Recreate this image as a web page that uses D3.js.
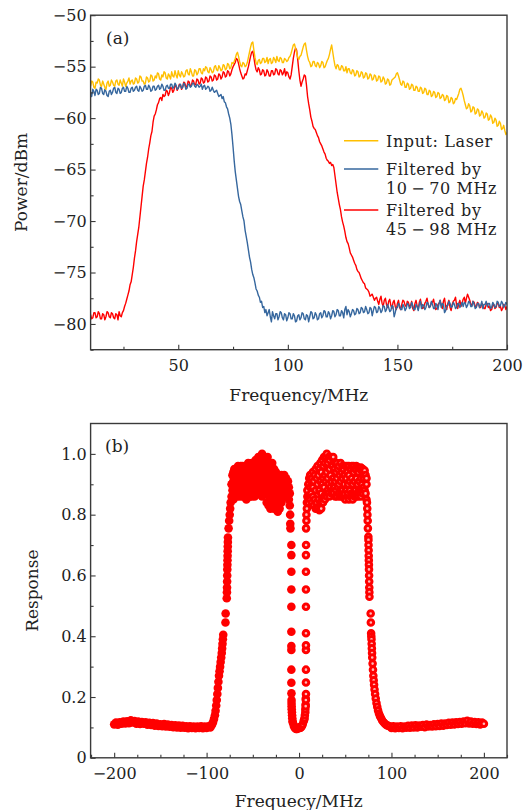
<!DOCTYPE html>
<html>
<head>
<meta charset="utf-8">
<script src="https://cdn.jsdelivr.net/npm/d3@7"></script>
<style>
body { margin: 0; background: #fff; }
svg text { font-family: "DejaVu Serif", serif; fill: #222; }
</style>
</head>
<body>
<svg id="chart" width="530" height="810"></svg>
<script>
// ---- panel (a) data: power spectra on a 0.5 MHz grid, 10 .. 200 MHz ----
var freqA = d3.range(10, 200.25, 0.5);

var laser = [
 -56.9,-56.4,-56.5,-57.0,-57.1,-56.5,-56.6,-56.2,-56.3,-56.8,-56.9,-56.4,-56.7,-57.0,-57.2,-56.6,-56.4,-56.9,-56.8,-56.3,
 -56.5,-56.8,-56.9,-56.4,-56.3,-56.7,-56.8,-56.3,-56.6,-56.9,-56.2,-56.5,-56.9,-56.6,-56.4,-56.1,-56.7,-56.4,-56.3,-56.7,
 -56.6,-56.1,-56.2,-56.6,-56.5,-55.9,-56.0,-56.4,-56.4,-56.7,-56.6,-56.0,-56.1,-56.5,-56.4,-55.8,-55.9,-56.4,-56.3,-55.9,
 -56.1,-55.6,-55.7,-56.2,-56.3,-55.8,-56.0,-55.5,-55.6,-56.1,-56.2,-55.7,-55.9,-56.2,-55.5,-55.9,-56.0,-55.4,-55.8,-56.1,
 -55.4,-55.8,-56.0,-55.5,-55.7,-56.0,-55.9,-55.4,-55.3,-55.7,-55.8,-55.2,-55.5,-55.9,-55.9,-55.3,-55.4,-55.8,-55.6,-55.2,
 -55.2,-55.6,-55.7,-55.2,-55.4,-55.0,-55.1,-55.5,-55.6,-55.1,-55.3,-55.6,-55.5,-55.0,-54.9,-55.3,-55.4,-54.9,-55.1,-55.4,
 -55.3,-54.8,-54.9,-55.3,-55.2,-54.7,-54.8,-55.2,-55.1,-54.6,-54.7,-54.5,-54.2,-53.8,-53.6,-54.0,-54.5,-54.9,-55.0,-54.6,
 -54.7,-55.0,-54.9,-54.6,-54.1,-53.6,-53.1,-52.7,-52.6,-53.4,-54.1,-54.6,-54.8,-54.4,-54.3,-54.7,-54.6,-54.2,-54.2,-54.6,
 -54.5,-54.1,-54.7,-54.3,-54.2,-54.7,-54.6,-54.1,-54.3,-54.6,-54.0,-54.4,-54.5,-54.1,-54.2,-54.6,-54.6,-54.2,-54.3,-54.5,
 -54.4,-54.1,-54.0,-53.7,-53.3,-52.9,-52.8,-53.2,-53.6,-54.1,-54.3,-54.0,-53.9,-53.5,-53.1,-52.8,-52.7,-53.4,-54.0,-54.4,
 -54.6,-55.0,-54.9,-54.5,-54.5,-54.9,-55.0,-54.6,-54.7,-55.1,-54.9,-54.5,-54.6,-55.1,-55.0,-54.7,-54.4,-54.2,-53.8,-53.3,
 -52.9,-53.6,-54.3,-54.9,-55.2,-54.8,-54.9,-55.3,-55.3,-54.9,-55.0,-55.4,-55.4,-55.0,-55.6,-55.2,-55.2,-55.6,-55.7,-55.3,
 -55.4,-55.9,-55.8,-55.4,-55.5,-56.0,-55.9,-55.5,-55.6,-56.1,-56.0,-55.6,-55.7,-56.2,-56.1,-55.7,-55.8,-56.3,-56.2,-55.8,
 -55.9,-56.4,-56.3,-55.9,-56.0,-56.5,-56.4,-56.0,-56.2,-56.7,-56.6,-56.2,-56.3,-56.8,-56.7,-56.3,-56.2,-56.1,-56.0,-55.7,
 -55.6,-55.9,-56.3,-56.7,-56.8,-56.4,-56.5,-57.0,-57.0,-56.6,-56.7,-57.2,-57.1,-56.7,-56.8,-57.3,-57.3,-56.9,-57.0,-57.4,
 -57.4,-57.0,-57.1,-57.6,-57.5,-57.1,-57.2,-57.7,-57.7,-57.3,-57.4,-57.9,-57.8,-57.4,-57.5,-58.0,-57.9,-57.5,-57.6,-58.1,
 -58.0,-57.7,-57.8,-58.3,-58.2,-57.8,-57.9,-58.5,-58.4,-58.0,-58.1,-58.6,-58.5,-58.1,-58.2,-57.9,-57.6,-57.2,-57.1,-57.4,
 -57.8,-58.3,-58.7,-59.1,-59.0,-58.6,-58.8,-59.4,-59.3,-58.9,-59.0,-59.6,-59.5,-59.1,-59.2,-59.8,-59.7,-59.3,-59.5,-60.0,
 -59.9,-59.5,-59.6,-60.2,-60.1,-59.7,-59.9,-60.5,-60.4,-60.0,-60.2,-60.8,-60.7,-60.3,-60.5,-61.1,-61.0,-60.7,-61.2,-61.6,
 -61.4
];

var filtered1070 = [
 -57.5,-57.9,-57.2,-57.4,-57.8,-57.2,-57.3,-57.7,-57.6,-57.0,-57.1,-57.6,-57.7,-57.2,-57.4,-57.8,-57.9,-57.4,-57.3,-57.7,
 -57.5,-57.1,-57.0,-57.5,-57.6,-57.1,-57.2,-57.6,-57.5,-57.1,-57.0,-57.4,-57.4,-56.9,-57.1,-57.5,-57.5,-57.1,-57.0,-57.4,
 -57.3,-57.0,-56.9,-57.3,-57.4,-56.9,-57.1,-57.4,-57.3,-56.9,-56.8,-57.2,-57.2,-56.8,-57.0,-57.4,-57.3,-56.9,-56.9,-57.3,
 -57.2,-56.9,-56.8,-57.2,-57.1,-56.7,-56.9,-57.3,-57.3,-56.9,-56.8,-57.1,-57.1,-56.7,-56.7,-57.1,-57.0,-56.6,-56.8,-57.2,
 -57.1,-56.8,-56.7,-57.1,-57.0,-56.6,-56.8,-57.2,-57.1,-56.7,-56.7,-57.0,-56.9,-56.6,-56.6,-56.9,-57.0,-56.7,-56.8,-57.0,
 -56.9,-56.7,-57.2,-56.9,-56.8,-57.2,-57.1,-56.9,-57.0,-57.4,-57.3,-57.0,-57.3,-57.5,-57.4,-57.3,-57.6,-57.9,-57.8,-57.7,
 -58.1,-57.9,-58.4,-58.5,-58.9,-59.1,-59.6,-60.0,-60.6,-61.6,-62.8,-64.1,-65.2,-66.0,-66.8,-67.6,-68.1,-68.4,-69.0,-69.6,
 -70.0,-70.9,-71.5,-72.1,-72.8,-73.5,-74.0,-74.7,-75.2,-75.5,-76.0,-76.6,-76.8,-77.2,-77.4,-77.9,-77.8,-78.4,-78.3,-78.9,
 -78.6,-79.2,-78.9,-78.6,-79.3,-79.8,-78.8,-79.2,-79.5,-79.0,-79.0,-79.6,-79.3,-78.8,-78.9,-79.4,-79.6,-79.0,-79.1,-79.7,
 -79.4,-78.9,-79.0,-79.5,-79.5,-79.0,-79.2,-79.8,-79.7,-79.2,-79.1,-79.6,-79.4,-78.9,-79.0,-79.5,-79.6,-79.1,-79.2,-79.8,
 -79.3,-78.8,-78.9,-79.5,-79.4,-78.9,-79.1,-79.6,-79.5,-79.0,-78.9,-79.4,-79.2,-78.7,-78.8,-79.3,-79.3,-78.8,-79.0,-79.5,
 -79.2,-78.7,-78.8,-79.3,-79.1,-78.6,-78.7,-79.2,-79.2,-78.7,-78.9,-79.4,-78.6,-78.3,-79.1,-78.6,-78.8,-79.3,-79.0,-78.6,
 -78.7,-79.1,-79.0,-78.5,-78.6,-79.0,-78.9,-78.4,-78.5,-78.9,-78.8,-78.3,-78.6,-79.0,-78.9,-78.4,-78.5,-79.2,-78.7,-78.3,
 -78.4,-78.9,-78.8,-78.3,-78.5,-78.9,-78.7,-78.2,-78.3,-78.8,-78.6,-78.1,-78.4,-78.8,-78.7,-78.2,-78.3,-79.3,-78.9,-78.4,
 -78.4,-78.0,-78.2,-78.6,-78.6,-78.1,-78.3,-78.7,-78.5,-78.0,-78.1,-78.5,-78.4,-77.9,-78.2,-78.6,-78.6,-78.1,-78.3,-78.7,
 -78.1,-77.8,-78.5,-78.1,-78.2,-78.6,-78.4,-77.9,-78.0,-78.4,-78.3,-77.8,-78.1,-78.5,-78.5,-78.0,-78.2,-78.6,-78.0,-77.7,
 -78.4,-78.0,-78.1,-78.9,-78.7,-78.2,-78.2,-77.8,-78.0,-78.4,-78.3,-77.9,-78.1,-78.5,-78.4,-78.0,-78.0,-78.4,-78.2,-77.9,
 -78.3,-77.9,-78.0,-78.4,-78.2,-77.8,-77.9,-78.3,-78.3,-77.8,-78.1,-78.5,-78.4,-78.0,-78.0,-78.4,-78.2,-77.8,-78.5,-78.1,
 -78.1,-77.8,-78.3,-78.0,-78.0,-78.5,-78.4,-77.9,-78.1,-78.4,-78.3,-77.8,-77.9,-78.3,-78.2,-77.8,-78.0,-78.4,-78.2,-77.9,
 -78.1
];

var filtered4598 = [
 -79.1,-79.5,-79.4,-78.9,-78.9,-79.4,-79.3,-78.8,-79.0,-79.5,-79.5,-79.0,-79.1,-79.6,-79.3,-78.8,-78.9,-79.3,-79.4,-78.9,
 -79.0,-79.4,-79.5,-79.0,-79.1,-79.6,-78.8,-79.2,-79.3,-78.9,-78.7,-78.3,-78.0,-77.6,-77.2,-76.8,-76.2,-75.9,-75.2,-74.5,
 -73.6,-72.9,-72.0,-71.3,-70.6,-69.6,-68.6,-67.6,-66.6,-66.0,-65.2,-64.4,-63.8,-63.0,-62.4,-61.7,-61.3,-60.4,-59.8,-59.6,
 -59.2,-58.7,-58.5,-58.1,-58.0,-58.3,-57.7,-57.9,-57.8,-57.3,-57.4,-57.8,-57.5,-57.0,-57.1,-57.5,-57.3,-56.8,-56.9,-57.3,
 -57.1,-56.7,-56.8,-57.2,-57.0,-56.5,-56.6,-57.0,-56.9,-56.4,-56.5,-56.9,-56.8,-56.3,-56.4,-56.8,-56.7,-56.2,-56.3,-56.7,
 -56.6,-56.1,-56.2,-56.6,-56.5,-56.0,-56.1,-56.5,-56.4,-55.9,-56.0,-56.4,-56.3,-55.8,-55.9,-56.3,-56.2,-55.7,-55.8,-56.2,
 -56.0,-55.5,-55.6,-56.0,-55.9,-55.4,-55.5,-55.9,-55.7,-55.3,-55.0,-54.8,-54.6,-54.2,-54.3,-54.7,-55.2,-55.6,-55.9,-56.2,
 -56.1,-55.7,-55.8,-55.4,-55.0,-54.5,-54.0,-53.6,-53.5,-54.1,-54.8,-55.3,-55.5,-55.1,-55.3,-55.8,-55.7,-55.3,-55.4,-55.9,
 -55.8,-55.3,-55.5,-55.9,-55.9,-55.4,-55.4,-55.8,-55.7,-55.2,-55.3,-55.7,-55.8,-55.3,-55.4,-55.8,-55.6,-55.2,-55.9,-55.5,
 -55.6,-56.0,-56.2,-55.8,-55.0,-54.2,-53.6,-53.2,-53.4,-54.3,-55.4,-56.3,-56.9,-56.5,-56.2,-55.8,-55.9,-56.8,-57.9,-58.6,
 -59.2,-59.9,-60.3,-60.8,-61.0,-61.1,-61.4,-61.7,-61.9,-62.3,-62.5,-62.7,-63.0,-63.3,-63.5,-63.9,-64.1,-64.2,-64.4,-64.3,
 -64.6,-64.5,-64.8,-65.6,-66.4,-67.2,-67.8,-68.4,-68.9,-69.6,-70.1,-70.5,-71.0,-71.6,-72.0,-72.2,-72.6,-73.1,-73.3,-73.5,
 -73.8,-74.1,-74.3,-74.7,-74.9,-75.0,-75.3,-75.6,-75.8,-76.0,-76.1,-76.5,-76.6,-76.7,-76.9,-77.3,-77.2,-77.1,-77.4,-77.7,
 -77.5,-77.4,-77.8,-78.1,-77.6,-77.3,-78.0,-78.3,-77.7,-77.5,-78.1,-78.4,-77.8,-77.6,-78.2,-78.5,-77.9,-77.7,-78.3,-78.6,
 -78.0,-77.7,-78.4,-78.6,-78.1,-77.7,-77.8,-78.2,-78.3,-77.8,-77.9,-78.3,-78.2,-77.8,-78.5,-78.7,-78.0,-77.7,-78.3,-78.6,
 -77.9,-77.6,-78.2,-78.5,-78.4,-78.0,-77.8,-77.5,-78.1,-78.4,-78.3,-77.9,-77.9,-77.6,-78.2,-78.6,-78.5,-78.1,-78.0,-77.7,
 -78.2,-78.5,-77.8,-77.5,-78.3,-78.6,-78.0,-77.7,-78.4,-78.7,-78.1,-77.8,-77.7,-77.4,-78.2,-78.5,-78.0,-77.7,-78.3,-78.0,
 -77.6,-77.4,-78.0,-77.5,-77.1,-77.4,-77.7,-78.1,-78.2,-77.8,-77.9,-78.3,-78.3,-77.9,-78.0,-78.4,-78.4,-78.0,-78.1,-78.5,
 -78.5,-78.1,-78.0,-78.4,-78.3,-78.7,-78.6,-78.2,-78.1,-78.5,-78.4,-78.0,-78.0,-78.4,-78.3,-78.7,-78.5,-78.1,-78.2,-78.6,
 -78.3
];

var seriesNames = ['Input: Laser', 'Filtered by|10\u2009\u2212\u200970 MHz', 'Filtered by|45\u2009\u2212\u200998 MHz'];
var seriesColors = ['#ffbf00', '#36679e', '#ff0000'];

var xTicksA = [50, 100, 150, 200];
var xMinorA = [25, 75, 125, 175];
var yTicksA = [-80, -75, -70, -65, -60, -55, -50];
var yMinorA = [-82.5, -77.5, -72.5, -67.5, -62.5, -57.5, -52.5];

// ---- panel (b) data: response points [frequency, response] ----
var responseNeg = [
 [-200,0.110],[-198,0.116],[-196,0.109],[-194,0.117],[-192,0.112],[-190,0.119],[-188,0.113],[-186,0.120],[-184,0.114],[-182,0.123],
 [-180,0.116],[-178,0.121],[-176,0.112],[-174,0.119],[-172,0.111],[-170,0.118],[-168,0.112],[-166,0.117],[-164,0.109],[-162,0.115],
 [-160,0.108],[-158,0.114],[-156,0.106],[-154,0.113],[-152,0.105],[-150,0.110],[-148,0.104],[-146,0.111],[-144,0.103],[-142,0.109],
 [-140,0.102],[-138,0.108],[-136,0.101],[-134,0.107],[-132,0.100],[-130,0.106],[-128,0.099],[-126,0.105],[-124,0.099],[-122,0.104],
 [-120,0.097],[-118,0.104],[-116,0.098],[-114,0.103],[-112,0.097],[-110,0.103],[-108,0.098],[-106,0.104],[-104,0.097],[-102,0.103],
 [-100,0.098],[-98,0.104],[-96,0.100],[-95,0.106],
 [-94,0.110],[-93,0.118],[-92,0.128],[-91,0.140],[-90.3,0.155],[-89.6,0.172],[-89,0.19],[-88.4,0.21],[-87.8,0.23],[-87.2,0.25],
 [-86.6,0.27],[-86,0.285],[-85.4,0.30],[-84.8,0.315],[-84.2,0.33],[-83.6,0.345],[-83.2,0.36],[-82.8,0.375],[-82.4,0.39],[-82,0.405],
 [-79.6,0.445],[-79.4,0.475],[-78.2,0.525],[-78,0.545],[-77.9,0.56],[-77.8,0.58],[-77.7,0.60],[-77.6,0.62],[-77.5,0.635],[-77.4,0.65],
 [-77.3,0.665],[-77.2,0.68],[-77.1,0.695],[-77,0.71],[-76.9,0.725],[-76.2,0.755],[-75.6,0.78],[-75,0.80],[-74.5,0.82],[-74,0.84],
 [-73,0.86],[-73,0.90],[-72,0.88],[-72,0.93],[-71,0.85],[-71,0.91],[-71,0.94],[-70,0.87],[-70,0.95],[-69,0.86],[-69,0.92],
 [-68,0.89],[-68,0.95],[-67,0.86],[-67,0.93],[-66,0.88],[-66,0.96],[-65,0.87],[-65,0.91],[-65,0.95],[-64,0.86],[-64,0.94],
 [-63,0.89],[-63,0.96],[-62,0.87],[-62,0.93],[-61,0.86],[-61,0.90],[-61,0.96],[-60,0.88],[-60,0.94],[-59,0.86],[-59,0.92],
 [-58,0.89],[-58,0.96],[-57,0.85],[-57,0.93],[-56,0.87],[-56,0.91],[-56,0.95],[-55,0.86],[-55,0.97],[-54,0.88],[-54,0.93],
 [-53,0.86],[-53,0.96],[-52,0.89],[-52,0.92],[-51,0.86],[-51,0.97],[-50,0.87],[-50,0.94],[-49,0.88],[-49,0.97],[-48,0.86],
 [-48,0.92],[-47,0.89],[-47,0.98],[-46,0.87],[-46,0.95],[-45,0.88],[-45,0.98],[-44,0.87],[-44,0.93],[-44,0.99],[-43,0.89],
 [-43,0.96],[-42,0.87],[-42,0.98],[-41,0.90],[-41,0.94],[-40,0.86],[-40,1.0],[-39,0.89],[-39,0.97],[-38,0.87],[-38,0.99],
 [-37,0.90],[-37,0.94],[-36,0.88],[-36,0.98],[-35,0.84],[-35,0.96],[-34,0.87],[-34,0.99],[-33,0.83],[-33,0.93],[-32,0.86],
 [-32,0.97],[-31,0.82],[-31,0.95],[-30,0.84],[-30,0.91],[-29,0.83],[-29,0.97],[-28,0.86],[-28,0.93],[-27,0.82],[-27,0.95],
 [-26,0.84],[-26,0.90],[-25,0.83],[-25,0.94],[-24,0.82],[-24,0.88],[-23,0.81],[-23,0.93],[-22,0.84],[-22,0.90],[-21,0.82],
 [-21,0.92],[-20,0.85],[-20,0.88],[-19,0.84],[-19,0.93],[-18,0.87],[-18,0.91],[-17,0.86],[-17,0.92],[-16,0.88],[-16,0.93],
 [-15,0.86],[-15,0.91],[-14,0.88],[-14,0.92],[-13,0.87],[-13,0.90],[-12,0.86],[-12,0.91],[-11,0.85],[-11,0.89],[-10,0.83],
 [-10,0.87],[-9.6,0.80],[-9.5,0.77],[-9.3,0.755],
 [-72.5,0.90],[-70.5,0.91],[-68.5,0.92],[-66.5,0.91],[-64.5,0.90],[-62.5,0.91],[-60.5,0.92],[-58.5,0.90],[-56.5,0.93],
 [-54.5,0.91],[-52.5,0.94],[-50.5,0.90],[-48.5,0.94],[-46.5,0.91],[-44.5,0.96],[-42.5,0.92],[-40.5,0.95],[-39.5,0.93],
 [-38.5,0.91],[-37.5,0.96],[-36.5,0.92],[-35.5,0.90],[-34.5,0.93],[-33.5,0.97],[-32.5,0.91],[-31.5,0.88],[-30.5,0.94],
 [-29.5,0.90],[-28.5,0.89],[-27.5,0.91],[-26.5,0.87],[-25.5,0.88],[-24.5,0.91],[-23.5,0.86],[-22.5,0.87],[-21.5,0.88],
 [-20.5,0.91],[-19.5,0.89],[-18.5,0.90],[-16.5,0.90],[-14.5,0.895],[-12.5,0.885],
 [-8.3,0.70],[-8.3,0.667],[-8.3,0.612],[-8.3,0.554],[-8.3,0.497],[-8.3,0.415],[-8.3,0.368],[-8.3,0.355],[-8.3,0.29],[-8.3,0.247],
 [-8.2,0.212],[-8.1,0.19],[-8.1,0.18],[-8,0.17],[-7.9,0.16],[-7.7,0.15],[-7.5,0.14],[-7.3,0.13],[-7,0.12],[-6.6,0.115],
 [-5.6,0.105],[-4.5,0.098],[-3.3,0.095],[-2.1,0.095],[-1,0.097],[-0.3,0.10]
];

var responsePos = [
 [1,0.098],[2,0.10],[3,0.104],[4,0.11],[5,0.12],[5.5,0.125],[6,0.13],[6.3,0.14],[6.8,0.15],[6.8,0.16],[7.1,0.175],[7.2,0.17],
 [7.3,0.195],[7.4,0.19],[7.5,0.21],[7.5,0.248],[7.5,0.29],[7.5,0.355],[7.5,0.37],[7.5,0.41],[7.5,0.497],[7.5,0.554],[7.5,0.612],
 [7.5,0.667],[7.6,0.70],[7.6,0.755],
 [8,0.78],[8,0.80],[8.5,0.82],[8.5,0.84],[9,0.86],[9,0.88],[10,0.84],[10,0.90],[11,0.86],[11,0.92],[12,0.85],[12,0.89],[12,0.93],
 [13,0.87],[13,0.91],[14,0.84],[14,0.92],[15,0.86],[15,0.89],[15,0.94],[16,0.83],[16,0.91],[17,0.85],[17,0.93],[18,0.82],[18,0.88],
 [18,0.95],[19,0.84],[19,0.92],[20,0.82],[20,0.90],[20,0.96],[21,0.85],[21,0.93],[22,0.815],[22,0.88],[22,0.95],[23,0.84],[23,0.91],
 [23,0.97],[24,0.82],[24,0.87],[24,0.94],[25,0.85],[25,0.90],[25,0.98],[26,0.84],[26,0.92],[26,0.96],[27,0.86],[27,0.89],[27,0.99],
 [28,0.85],[28,0.93],[28,0.97],[29,0.87],[29,0.91],[29,0.99],[30,0.86],[30,0.94],[30,1.0],[31,0.88],[31,0.92],[31,0.97],[32,0.87],
 [32,0.90],[32,0.99],[33,0.86],[33,0.95],[33,0.98],[34,0.89],[34,0.93],[35,0.87],[35,0.91],[35,0.99],[36,0.88],[36,0.96],[37,0.87],
 [37,0.92],[37,0.99],[38,0.89],[38,0.95],[39,0.86],[39,0.91],[39,0.97],[40,0.88],[40,0.94],[41,0.86],[41,0.92],[41,0.97],[42,0.89],
 [42,0.95],[43,0.87],[43,0.90],[43,0.96],[44,0.86],[44,0.93],[45,0.88],[45,0.91],[45,0.97],[46,0.86],[46,0.94],[47,0.88],[47,0.92],
 [47,0.96],[48,0.86],[48,0.95],[49,0.87],[49,0.90],[49,0.93],[50,0.85],[50,0.96],[51,0.88],[51,0.92],[52,0.86],[52,0.94],[52,0.96],
 [53,0.87],[53,0.90],[54,0.85],[54,0.93],[54,0.96],[55,0.88],[55,0.91],[56,0.86],[56,0.95],[57,0.87],[57,0.92],[57,0.96],[58,0.85],
 [58,0.90],[59,0.87],[59,0.94],[59,0.96],[60,0.86],[60,0.91],[61,0.88],[61,0.95],[62,0.86],[62,0.92],[62,0.96],[63,0.87],[63,0.90],
 [64,0.86],[64,0.94],[64,0.955],[65,0.88],[65,0.91],[66,0.87],[66,0.95],[67,0.86],[67,0.92],[67,0.955],[68,0.88],[68,0.90],[69,0.87],
 [69,0.94],[69,0.95],[70,0.89],[70,0.92],[71,0.88],[71,0.945],[72,0.87],[72,0.93],[73,0.85],[73,0.90],[73,0.92],
 [73.5,0.84],[73.8,0.82],[74,0.80],[74.3,0.78],[74.5,0.755],[75,0.727],[75.1,0.717],[75.2,0.70],[75.3,0.683],[75.4,0.665],
 [75.5,0.65],[75.6,0.635],[75.7,0.62],[75.8,0.60],[75.9,0.58],[76,0.56],[76.1,0.545],[76.2,0.53],[77.5,0.475],[77.7,0.445],
 [78,0.41],[78.2,0.40],[78.4,0.39],[78.6,0.375],[78.8,0.36],[79,0.345],[79.2,0.33],[79.6,0.31],[80,0.29],[80.4,0.27],
 [80.8,0.255],[81.2,0.24],[81.7,0.225],[82.3,0.21],[83,0.195],[83.8,0.18],[84.6,0.168],[85.5,0.156],[86.5,0.146],[87.6,0.137],
 [88.8,0.13],[90,0.123],[91.5,0.117],[93,0.112],[94.5,0.108],[96,0.106],[98,0.104],
 [100,0.098],[102,0.104],[104,0.097],[106,0.103],[108,0.098],[110,0.104],[112,0.097],[114,0.103],[116,0.099],[118,0.105],
 [120,0.099],[122,0.106],[124,0.100],[126,0.107],[128,0.100],[130,0.106],[132,0.102],[134,0.108],[136,0.101],[138,0.109],
 [140,0.103],[142,0.108],[144,0.103],[146,0.110],[148,0.104],[150,0.111],[152,0.105],[154,0.113],[156,0.106],[158,0.113],
 [160,0.108],[162,0.115],[164,0.109],[166,0.116],[168,0.110],[170,0.117],[172,0.111],[174,0.118],[176,0.112],[178,0.119],
 [180,0.114],[182,0.122],[184,0.113],[186,0.119],[188,0.112],[190,0.118],[192,0.111],[194,0.117],[196,0.110],[198,0.116],
 [200,0.112]
];

var xTicksB = [-200, -100, 0, 100, 200];
var xMinorB = [-225, -175, -150, -125, -75, -50, -25, 25, 50, 75, 125, 150, 175, 225];
var yTicksB = [0, 0.2, 0.4, 0.6, 0.8, 1.0];
var yMinorB = [0.1, 0.3, 0.5, 0.7, 0.9];

// ---- layout ----
var svg = d3.select('#chart');
var frameColor = '#3a3a3a';
var labelSize = 17;

var boxA = {left: 90.6, top: 15.2, width: 416.4, height: 334.5};
var boxB = {left: 90.6, top: 423.5, width: 416.4, height: 334.3};

var xA = d3.scaleLinear().domain([10, 200]).range([boxA.left, boxA.left + boxA.width]);
var yA = d3.scaleLinear().domain([-82.5, -50]).range([boxA.top + boxA.height, boxA.top]);
var xB = d3.scaleLinear().domain([-225.5, 225]).range([boxB.left, boxB.left + boxB.width]);
var yB = d3.scaleLinear().domain([0, 1.1]).range([boxB.top + boxB.height, boxB.top]);

function drawAxes(box, x, y, xMajor, xMinor, yMajor, yMinor, xFmt, yFmt) {
	var g = svg.append('g');
	var bottom = box.top + box.height;
	// minor ticks
	g.append('g').attr('transform', 'translate(0,' + bottom + ')')
		.call(d3.axisBottom(x).tickValues(xMinor).tickSize(-3).tickFormat(''));
	g.append('g').attr('transform', 'translate(' + box.left + ',0)')
		.call(d3.axisLeft(y).tickValues(yMinor).tickSize(-3).tickFormat(''));
	// major ticks with labels
	g.append('g').attr('transform', 'translate(0,' + bottom + ')')
		.call(d3.axisBottom(x).tickValues(xMajor).tickSize(-5).tickPadding(10).tickFormat(xFmt));
	g.append('g').attr('transform', 'translate(' + box.left + ',0)')
		.call(d3.axisLeft(y).tickValues(yMajor).tickSize(-5).tickPadding(4).tickFormat(yFmt));
	g.selectAll('.domain').remove();
	g.selectAll('.tick line').attr('stroke', frameColor).attr('stroke-width', 1.1);
	g.selectAll('.tick text').attr('font-size', 16).attr('font-family', '"DejaVu Serif", serif').attr('fill', '#222');
	// frame
	svg.append('rect')
		.attr('x', box.left).attr('y', box.top)
		.attr('width', box.width).attr('height', box.height)
		.attr('fill', 'none').attr('stroke', frameColor).attr('stroke-width', 1.4);
}

// ---- panel (a) ----
svg.append('clipPath').attr('id', 'clipA').append('rect')
	.attr('x', boxA.left).attr('y', boxA.top).attr('width', boxA.width).attr('height', boxA.height);

var line = d3.line()
	.x(function(d, i) { return xA(freqA[i]); })
	.y(function(d) { return yA(d); });

var traces = svg.append('g').attr('clip-path', 'url(#clipA)');
[[filtered4598, 2], [filtered1070, 1], [laser, 0]].forEach(function(t) {
	traces.append('path')
		.attr('d', line(t[0]))
		.attr('fill', 'none')
		.attr('stroke', seriesColors[t[1]])
		.attr('stroke-width', 1.4)
		.attr('stroke-linejoin', 'round');
});

drawAxes(boxA, xA, yA, xTicksA, xMinorA, yTicksA, yMinorA, d3.format('d'), d3.format('d'));

// legend
var legendY = [140.7, 169, 210];
var legendSize = 16;
var legend = svg.append('g');
seriesNames.forEach(function(name, i) {
	legend.append('line')
		.attr('x1', 344).attr('x2', 378.3)
		.attr('y1', legendY[i]).attr('y2', legendY[i])
		.attr('stroke', seriesColors[i]).attr('stroke-width', 1.5);
	name.split('|').forEach(function(part, j) {
		legend.append('text')
			.attr('x', 386).attr('y', legendY[i] + 5.8 + j * 18.8)
			.attr('font-size', legendSize)
			.attr('letter-spacing', '0.6px')
			.text(part);
	});
});

svg.append('text').attr('x', 106).attr('y', 43.5).attr('font-size', labelSize).text('(a)');
svg.append('text')
	.attr('transform', 'translate(21,' + (boxA.top + boxA.height / 2) + ') rotate(-90)')
	.attr('text-anchor', 'middle').attr('dy', '0.35em').attr('font-size', labelSize)
	.text('Power/dBm');
svg.append('text')
	.attr('x', boxA.left + boxA.width / 2).attr('y', 401)
	.attr('text-anchor', 'middle').attr('font-size', labelSize)
	.text('Frequency/MHz');

// ---- panel (b) ----
svg.append('clipPath').attr('id', 'clipB').append('rect')
	.attr('x', boxB.left).attr('y', boxB.top).attr('width', boxB.width).attr('height', boxB.height);

var dots = svg.append('g').attr('clip-path', 'url(#clipB)');
dots.selectAll('circle.neg')
	.data(responseNeg)
	.enter()
	.append('circle')
	.attr('class', 'neg')
	.attr('cx', function(d) { return xB(d[0]); })
	.attr('cy', function(d) { return yB(d[1]); })
	.attr('r', 4.3)
	.attr('fill', '#ff0000');
dots.selectAll('circle.pos')
	.data(responsePos)
	.enter()
	.append('circle')
	.attr('class', 'pos')
	.attr('cx', function(d) { return xB(d[0]); })
	.attr('cy', function(d) { return yB(d[1]); })
	.attr('r', 2.8)
	.attr('fill', '#ffb8b8')
	.attr('stroke', '#ff0000')
	.attr('stroke-width', 3);

drawAxes(boxB, xB, yB, xTicksB, xMinorB, yTicksB, yMinorB, d3.format('d'),
	function(d) { return d === 0 ? '0' : d3.format('.1f')(d); });

svg.append('text').attr('x', 105).attr('y', 452).attr('font-size', labelSize).text('(b)');
svg.append('text')
	.attr('transform', 'translate(32,' + (boxB.top + boxB.height / 2) + ') rotate(-90)')
	.attr('text-anchor', 'middle').attr('dy', '0.35em').attr('font-size', labelSize)
	.text('Response');
svg.append('text')
	.attr('x', boxB.left + boxB.width / 2).attr('y', 807)
	.attr('text-anchor', 'middle').attr('font-size', labelSize)
	.text('Frequecy/MHz');
</script>
</body>
</html>
